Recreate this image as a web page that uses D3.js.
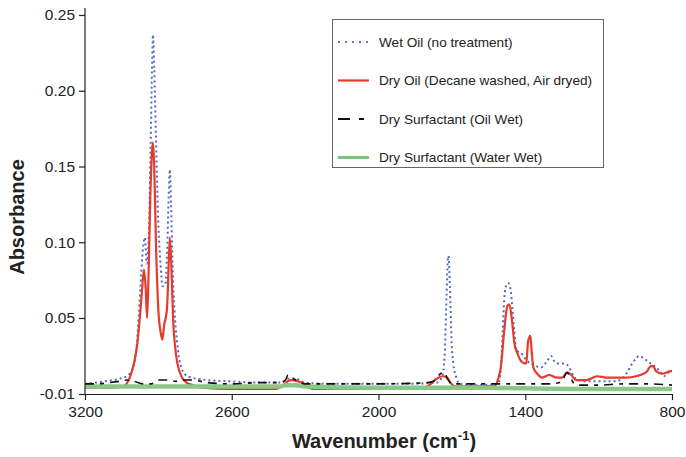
<!DOCTYPE html>
<html>
<head>
<meta charset="utf-8">
<script src="https://cdn.jsdelivr.net/npm/d3@7"></script>
<style>
  body { margin: 0; background: #fff; }
  svg { display: block; font-family: "Liberation Sans", Arial, sans-serif; }
</style>
</head>
<body>
<div id="chart"></div>
<script>
// spectra: [wavenumber, absorbance]
const wetOil = [
  [3200,-0.002],[3120,0.000],[3060,0.002],[3030,0.004],[3005,0.010],[2990,0.025],[2980,0.052],
  [2970,0.080],[2962,0.098],[2955,0.103],[2948,0.086],[2940,0.100],[2932,0.160],[2926,0.215],
  [2922,0.237],[2917,0.215],[2910,0.170],[2902,0.120],[2893,0.090],[2882,0.071],[2872,0.072],
  [2864,0.095],[2858,0.130],[2853,0.148],[2848,0.125],[2842,0.085],[2834,0.055],[2824,0.032],
  [2815,0.018],[2800,0.008],[2780,0.004],[2740,0.002],[2700,0.001],[2600,0.000],[2500,-0.001],
  [2400,-0.001],[2370,0.002],[2340,0.002],[2300,-0.001],[2200,-0.002],[1900,-0.002],[1760,-0.001],
  [1740,0.004],[1730,0.019],[1722,0.064],[1716,0.090],[1714,0.091],[1710,0.080],[1706,0.060],
  [1702,0.035],[1694,0.014],[1682,0.003],[1669,-0.002],[1600,-0.003],[1510,-0.002],[1500,0.010],
  [1492,0.040],[1486,0.062],[1477,0.072],[1469,0.073],[1460,0.069],[1453,0.057],[1445,0.040],
  [1437,0.024],[1420,0.023],[1408,0.020],[1392,0.016],[1375,0.014],[1355,0.012],[1335,0.011],
  [1314,0.015],[1294,0.020],[1282,0.016],[1261,0.014],[1241,0.014],[1220,0.011],[1208,0.006],
  [1192,0.002],[1150,0.000],[1100,0.000],[1030,0.000],[1000,0.003],[987,0.006],[963,0.014],
  [947,0.018],[935,0.020],[914,0.018],[894,0.015],[865,0.011],[845,0.007],[833,0.004],
  [812,0.007],[800,0.007]
];
const dryOil = [
  [3200,-0.005],[3100,-0.005],[3045,-0.004],[3030,-0.002],[3015,0.004],[3000,0.014],[2986,0.030],
  [2975,0.052],[2967,0.068],[2959,0.082],[2952,0.070],[2946,0.050],[2940,0.080],[2933,0.130],
  [2926,0.160],[2922,0.166],[2917,0.150],[2910,0.100],[2900,0.055],[2890,0.038],[2884,0.033],
  [2876,0.045],[2870,0.050],[2864,0.058],[2858,0.085],[2853,0.103],[2846,0.080],[2840,0.050],
  [2832,0.028],[2822,0.014],[2806,0.004],[2785,-0.001],[2760,-0.003],[2720,-0.005],[2600,-0.006],
  [2420,-0.006],[2390,-0.003],[2371,0.000],[2351,0.001],[2330,0.000],[2314,-0.001],[2294,-0.004],
  [2270,-0.006],[2000,-0.006],[1850,-0.006],[1800,-0.004],[1792,-0.003],[1763,0.002],[1739,0.004],
  [1720,0.003],[1702,-0.002],[1690,-0.004],[1600,-0.004],[1530,-0.004],[1514,0.000],[1498,0.014],
  [1486,0.040],[1473,0.058],[1465,0.059],[1453,0.046],[1445,0.031],[1432,0.022],[1412,0.015],
  [1396,0.014],[1388,0.032],[1379,0.036],[1375,0.027],[1367,0.011],[1351,0.006],[1330,0.003],
  [1302,0.005],[1273,0.003],[1249,0.003],[1228,0.007],[1212,0.005],[1192,0.001],[1151,0.001],
  [1106,0.004],[1069,0.003],[987,0.003],[947,0.004],[906,0.007],[886,0.012],[877,0.012],
  [865,0.008],[841,0.006],[804,0.008],[800,0.008]
];
const surfOilWet = [
  [3200,-0.002],[3150,-0.002],[3100,-0.001],[3060,0.000],[3030,0.001],[3000,0.000],[2960,-0.002],
  [2930,-0.002],[2900,0.001],[2860,0.001],[2830,0.000],[2800,0.001],[2760,0.001],[2700,-0.001],
  [2600,-0.002],[2480,-0.001],[2400,-0.001],[2380,0.001],[2370,0.005],[2355,0.003],[2330,0.000],
  [2300,-0.002],[2000,-0.002],[1800,-0.001],[1775,0.000],[1760,0.003],[1747,0.006],[1731,0.007],
  [1718,0.002],[1700,-0.002],[1500,-0.002],[1300,-0.002],[1260,-0.001],[1245,0.002],[1230,0.007],
  [1215,0.003],[1200,-0.002],[1185,-0.003],[1100,-0.003],[1000,-0.002],[900,-0.002],[800,-0.003]
];
const surfWaterWet = [
  [3200,-0.004],[2700,-0.004],[2400,-0.004],[2380,-0.003],[2340,-0.003],[2300,-0.004],
  [2000,-0.005],[1600,-0.005],[1200,-0.006],[800,-0.006]
];

const seriesNames = [
  "Wet Oil (no treatment)",
  "Dry Oil (Decane washed, Air dryed)",
  "Dry Surfactant (Oil Wet)",
  "Dry Surfactant (Water Wet)"
];
const xTicks = [3200, 2600, 2000, 1400, 800];
const yTicks = [-0.01, 0.05, 0.10, 0.15, 0.20, 0.25];

const width = 686, height = 457;

const svg = d3.select("#chart").append("svg")
  .attr("width", width)
  .attr("height", height);

const x = d3.scaleLinear().domain([3200, 800]).range([85, 672]);
// the bottom tick of the original axis sits closer than the others
const y = d3.scaleLinear().domain([-0.01, 0.05, 0.25]).range([394, 318, 15]);

const line = d3.line()
  .x(d => x(d[0]))
  .y(d => y(d[1]))
  .curve(d3.curveMonotoneX);

const styles = [
  { data: wetOil, stroke: "#5468c8", width: 2, dash: "2,3" },
  { data: dryOil, stroke: "#e63a2b", width: 2.2, dash: null },
  { data: surfWaterWet, stroke: "#88c988", width: 4.5, dash: null },
  { data: surfOilWet, stroke: "#111", width: 1.6, dash: "9,6,4,6" }
];

styles.forEach(s => {
  svg.append("path")
    .datum(s.data)
    .attr("fill", "none")
    .attr("stroke", s.stroke)
    .attr("stroke-width", s.width)
    .attr("stroke-dasharray", s.dash)
    .attr("d", line);
});

// axes
const xAxis = svg.append("g")
  .attr("transform", `translate(0,${y(-0.01)})`)
  .call(d3.axisBottom(x).tickValues(xTicks).tickSize(6).tickSizeOuter(0).tickPadding(6)
    .tickFormat(d3.format("d")));
const yAxis = svg.append("g")
  .attr("transform", `translate(${x(3200)},0)`)
  .call(d3.axisLeft(y).tickValues(yTicks).tickSize(6).tickSizeOuter(0).tickPadding(4)
    .tickFormat(d => d.toFixed(2)));

yAxis.select(".domain").attr("d", `M0,8V${y(-0.01)}`);
[xAxis, yAxis].forEach(a => {
  a.selectAll("path, line").attr("stroke", "#222").attr("stroke-width", 1.2);
  a.selectAll("text").attr("fill", "#222").style("font-size", "15.5px")
    .style("font-family", "Liberation Sans, Arial, sans-serif");
});

svg.append("text")
  .attr("transform", `translate(24,217) rotate(-90)`)
  .attr("text-anchor", "middle")
  .style("font-size", "20px")
  .style("font-weight", "bold")
  .attr("fill", "#222")
  .text("Absorbance");

const xt = svg.append("text")
  .attr("x", 384)
  .attr("y", 448)
  .attr("text-anchor", "middle")
  .style("font-size", "20px")
  .style("font-weight", "bold")
  .attr("fill", "#222");
xt.append("tspan").text("Wavenumber (cm");
xt.append("tspan").attr("dy", -8).style("font-size", "13px").text("-1");
xt.append("tspan").attr("dy", 8).text(")");

// legend
const legend = svg.append("g");
legend.append("rect")
  .attr("x", 332.5).attr("y", 19.5)
  .attr("width", 271).attr("height", 148)
  .attr("fill", "#fff")
  .attr("stroke", "#666")
  .attr("stroke-width", 1);

const legendStyles = [
  { stroke: "#3448b8", width: 1.5, dash: "2,5" },
  { stroke: "#e63a2b", width: 2.2, dash: null },
  { stroke: "#111", width: 2, dash: "12,9,5,9" },
  { stroke: "#7cc47c", width: 3, dash: null }
];

seriesNames.forEach((name, i) => {
  const cy = 42 + i * 38.5;
  const st = legendStyles[i];
  legend.append("line")
    .attr("x1", 338).attr("x2", 369)
    .attr("y1", cy).attr("y2", cy)
    .attr("stroke", st.stroke)
    .attr("stroke-width", st.width)
    .attr("stroke-dasharray", st.dash);
  legend.append("text")
    .attr("x", 379)
    .attr("y", cy)
    .attr("dy", "0.35em")
    .style("font-size", "13.6px")
    .attr("fill", "#222")
    .text(name);
});
</script>
</body>
</html>
